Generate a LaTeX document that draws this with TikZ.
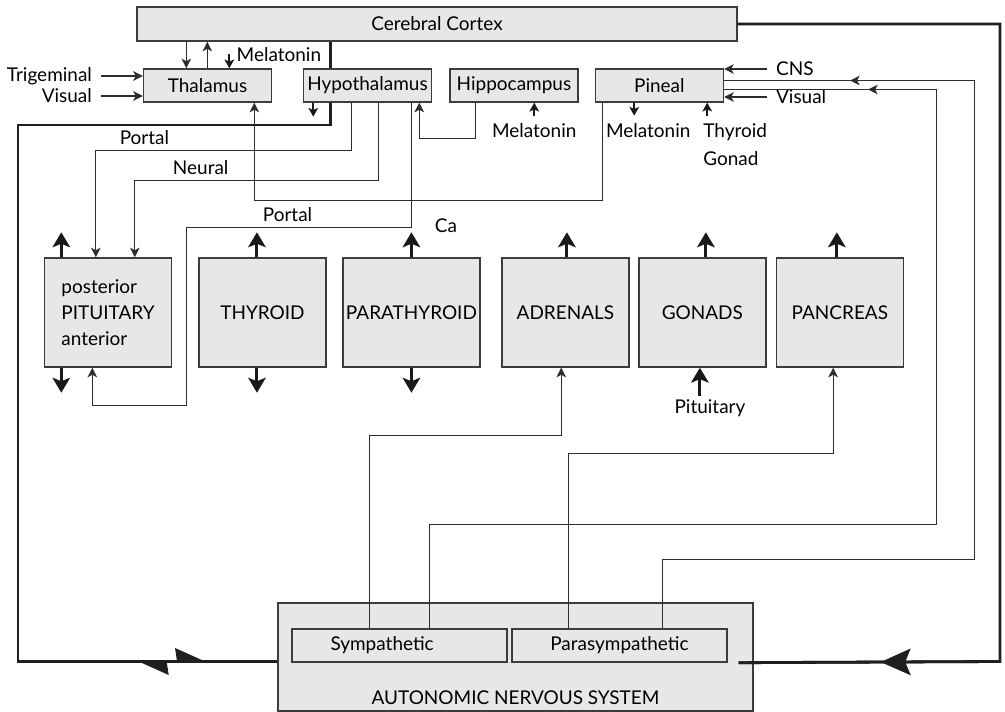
\documentclass[tikz,border=0pt]{standalone}
\usepackage{fontspec}
\setmainfont{Lato}
\usepackage{tikz}
\usetikzlibrary{shapes.geometric, arrows.meta, positioning, calc, decorations.markings}
\definecolor{boxgray}{RGB}{230,231,233}
\definecolor{edgegray}{RGB}{60,60,60}
\definecolor{wiregray}{RGB}{45,45,45}
\tikzstyle{brain} = [rectangle, minimum width=2.56cm, minimum height=0.66cm, inner sep=1pt, align=center, draw=edgegray, fill=boxgray, line width=0.8pt]
\tikzstyle{gland} = [rectangle, minimum width=2.54cm, minimum height=2.18cm, inner sep=1pt, align=center, draw=edgegray, fill=boxgray, line width=0.8pt]
\tikzstyle{wire} = [line width=0.65pt, draw=wiregray]
\tikzstyle{arrow2} = [wire, -{Stealth[length=5.5pt, width=5.5pt, inset=1.5pt]}]
\tikzstyle{stub} = [line width=1.7pt, draw=black!90, -{Stealth[length=8.5pt, width=10pt, inset=2pt]}]
\tikzstyle{stubsmall} = [line width=1.1pt, draw=black!90, -{Stealth[length=5pt, width=5.5pt, inset=1.2pt]}]
\tikzstyle{nerve} = [line width=1.6pt, draw=black!88]
\tikzstyle{lbl} = [inner sep=1pt]
\tikzset{
  midarrow/.style={postaction={decorate}, decoration={markings,
    mark=at position #1 with {\arrow[wiregray]{Stealth[length=5.5pt, width=5.5pt, inset=1.5pt]}}}},
  bigarrow/.style={postaction={decorate}, decoration={markings,
    mark=at position #1 with {\arrow{Stealth[length=17pt, width=15pt, inset=3pt]}}}},
  harpoons/.style 2 args={postaction={decorate}, decoration={markings,
    mark=at position #1 with {\arrowreversed{Stealth[harpoon, swap, length=17pt, width=15pt, inset=1pt]}},
    mark=at position #2 with {\arrow{Stealth[harpoon, length=17pt, width=15pt, inset=1pt]}}}}
}

\begin{document}
\begin{tikzpicture}[x=0.02cm, y=-0.02cm, font=\fontsize{10.8pt}{13pt}\selectfont]
\useasboundingbox (0,0) rectangle (1005,712);

% Brain row
\node (cortex) [brain, minimum width=12cm, minimum height=0.68cm] at (437,24) {Cerebral Cortex};
\node (thalamus) [brain] at (207.5,85.5) {Thalamus};
\node (hypo) [brain, right of=thalamus, node distance=3.2cm] {Hypothalamus};
\node (hippo) [brain, right of=hypo, node distance=2.93cm] {Hippocampus};
\node (pineal) [brain, right of=hippo, node distance=2.91cm] {Pineal};

% Glands
\node (pituitary) [gland, align=left] at (108,312.5) {posterior\\[1.7pt] PITUITARY\\[1.7pt] anterior};
\node (thyroid) [gland, right of=pituitary, node distance=3.09cm] {THYROID};
\node (parathyroid) [gland, minimum width=2.74cm, right of=thyroid, node distance=2.98cm] {PARATHYROID};
\node (adrenals) [gland, right of=parathyroid, node distance=3.08cm] {ADRENALS};
\node (gonads) [gland, right of=adrenals, node distance=2.74cm] {GONADS};
\node (pancreas) [gland, right of=gonads, node distance=2.75cm] {PANCREAS};

% Autonomic nervous system
\node (ans) [gland, minimum width=9.5cm, minimum height=2.16cm, label={[anchor=south, inner sep=4pt]south:AUTONOMIC NERVOUS SYSTEM}] at (515.5,657) {};
\node (symp) [brain, minimum width=4.3cm, text width=2.76cm, align=left] at (399.5,645.5) {Sympathetic};
\node (para) [brain, minimum width=4.3cm, right of=symp, node distance=4.4cm] {Parasympathetic};

% Labels
\node (trig) [lbl, anchor=east] at (94,76) {Trigeminal};
\node (visL) [lbl, anchor=east] at (94,96) {Visual};
\node (cns) [lbl, anchor=west] at (774,69) {CNS};
\node (visR) [lbl, anchor=west] at (774,97) {Visual};
\node (ca) [lbl] at (446,226) {Ca};
\node (pitu) [lbl] at (710,408) {Pituitary};

% Helper points
\coordinate (thA) at ($(thalamus.north west)+(43.5,0)$);
\coordinate (thB) at ($(thalamus.north west)+(64.5,0)$);
\coordinate (thC) at ($(thalamus.south west)+(111.5,0)$);
\coordinate (mtT) at ($(thalamus.north west)+(86.5,-14)$);
\coordinate (hx) at ($(hypo.south west)+(27.5,0)$);
\coordinate (hyS) at ($(hypo.south west)+(10.5,14)$);
\coordinate (hpA) at ($(hypo.south west)+(49,0)$);
\coordinate (hpB) at ($(hypo.south west)+(76,0)$);
\coordinate (hpC) at ($(hypo.south west)+(108.5,0)$);
\coordinate (hpD) at ($(hypo.south west)+(116.5,0)$);
\coordinate (hiA) at ($(hippo.south west)+(26,0)$);
\coordinate (hiB) at ($(hippo.south west)+(85,13)$);
\coordinate (pnA) at ($(pineal.south west)+(7.5,0)$);
\coordinate (pnB) at ($(pineal.south west)+(39.5,13)$);
\coordinate (pnC) at ($(pineal.south west)+(112.5,13)$);
\coordinate (pnD) at ($(pineal.east)+(0,4)$);
\coordinate (pnE) at ($(pineal.east)+(0,-5)$);
\coordinate (piA) at ($(pituitary.north west)+(52,0)$);
\coordinate (piB) at ($(pituitary.north west)+(91,0)$);
\coordinate (piC) at ($(pituitary.south west)+(48.5,0)$);
\coordinate (adA) at ($(adrenals.south west)+(60,0)$);
\coordinate (pcA) at ($(pancreas.south west)+(57.5,0)$);
\coordinate (gnA) at ($(gonads.south)+(-2.5,28)$);
\coordinate (syA) at ($(symp.north west)+(138,0)$);
\coordinate (syB) at ($(symp.north west)+(78,0)$);
\coordinate (paA) at ($(para.north west)+(151,0)$);
\coordinate (paB) at ($(para.north west)+(57,0)$);
\coordinate (ansR) at ($(para.south east)+(11,0)$);
\coordinate (nerveA) at (18,125);
\coordinate (nerveB) at (18,661.5);
\coordinate (nerveC) at (1000,661.5);

% Thick nerve paths
\draw [nerve] (hx |- cortex.south) -- (hx |- hypo.north);
\draw [nerve] (hx) |- (nerveA) -- (nerveB) -- (nerveB -| ans.west);
\draw [nerve, harpoons={-2.84cm}{-1.38cm}] (nerveB) -- (nerveB -| ans.west);
\draw [nerve, line join=miter] (cortex.east) -| (nerveC) -- (ansR);
\draw [nerve, bigarrow=-2.84cm] (nerveC) -- (ansR);

% Thalamus
\draw [arrow2] ([xshift=4pt]trig.east) -- (trig.east -| thalamus.west);
\draw [arrow2] ([xshift=4pt]visL.east) -- (visL.east -| thalamus.west);
\draw [arrow2] (thA |- cortex.south) -- (thA);
\draw [arrow2] (thB) -- (thB |- cortex.south);
\draw [stubsmall] (mtT) -- (mtT |- thalamus.north);
\node (melaT) [lbl, right=3pt of mtT] {Melatonin};

% Hypothalamus to pituitary
\draw [stubsmall] (hyS |- hypo.south) -- (hyS);
\draw [arrow2] (hpA) -- ++(0,48) -| node[lbl, above=2pt, pos=0.405] {Portal} (piA);
\draw [arrow2] (hpB) -- ++(0,78) -| node[lbl, above=2pt, pos=0.365] {Neural} (piB);
\draw [arrow2] (hpC) -- ++(0,125) -- node[lbl, above=2pt, pos=0.55] {Portal} ++(-225,0) -- ++(0,178) -| (piC);

% Hippocampus
\draw [arrow2] (hiA) -- ++(0,36) -| (hpD);
\draw [stubsmall] (hiB) -- (hiB |- hippo.south);
\node (melaH) [lbl, below=3pt of hiB] {Melatonin};

% Pineal
\draw [arrow2] (pnA) -- ++(0,98) -| (thC);
\draw [stubsmall] (pnB |- pineal.south) -- (pnB);
\node (melaP) [lbl, below=3pt of pnB, xshift=0.28cm] {Melatonin};
\draw [stubsmall] (pnC) -- (pnC |- pineal.south);
\node (thygon) [lbl, align=left, below right=3pt and -0.12cm of pnC] {Thyroid\\[3pt]Gonad};
\draw [arrow2] ([xshift=-4pt]cns.west) -- (cns.west -| pineal.east);
\draw [arrow2] ([xshift=-4pt]visR.west) -- (visR.west -| pineal.east);
\draw [wire, midarrow=-2.88cm] (syA) -- ++(0,-104) -- ++(507,0) |- (pnD);
\draw [wire, midarrow=-2.52cm] (paA) -- ++(0,-69) -- ++(312,0) |- (pnE);

% Gland outputs
\draw [stub] ($(pituitary.north west)+(17.5,0)$) -- ++(0,-25);
\draw [stub] ($(pituitary.south west)+(17.5,0)$) -- ++(0,25);
\draw [stub] ($(thyroid.north)+(-5.5,0)$) -- ++(0,-25);
\draw [stub] ($(thyroid.south)+(-5.5,0)$) -- ++(0,25);
\draw [stub] (parathyroid.north) -- ++(0,-25);
\draw [stub] (parathyroid.south) -- ++(0,25);
\draw [stub] ($(adrenals.north)+(1.5,0)$) -- ++(0,-25);
\draw [stub] ($(gonads.north)+(3.5,0)$) -- ++(0,-25);
\draw [stub] ($(pancreas.north)+(-3,0)$) -- ++(0,-25);
\draw [stub] (gnA) -- (gnA |- gonads.south);

% Autonomic outputs
\draw [arrow2] (syB) -- ++(0,-193) -| (adA);
\draw [arrow2] (paB) -- ++(0,-175) -| (pcA);

\end{tikzpicture}
\end{document}
